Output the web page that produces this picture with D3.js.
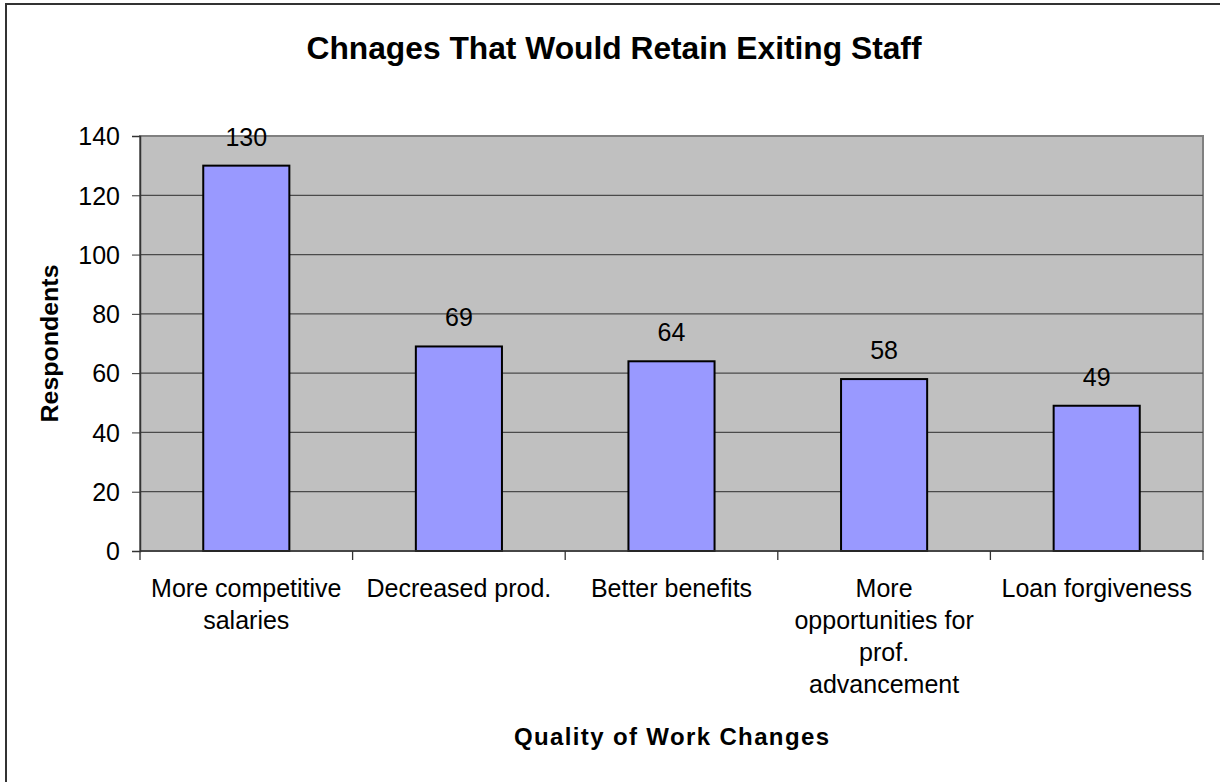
<!DOCTYPE html>
<html lang="en">
<head>
<meta charset="utf-8">
<title>Chnages That Would Retain Exiting Staff</title>
<script src="https://cdn.jsdelivr.net/npm/d3@7"></script>
<style>
body{
  margin: 0;
  background: #fff;
}
svg text{
  font-family: Arial, "Liberation Sans", sans-serif;
  fill: #000;
}
.axis path, .axis line{
  fill: none;
  stroke: #333;
}
</style>
</head>
<body>
<svg id="chart" width="1220" height="782"></svg>
<script>
  var categories = [
    ["More competitive", "salaries"],
    ["Decreased prod."],
    ["Better benefits"],
    ["More", "opportunities for", "prof.", "advancement"],
    ["Loan forgiveness"]
  ];
  var respondents = [130, 69, 64, 58, 49];
  var yTicks = [0, 20, 40, 60, 80, 100, 120, 140];

  var svg = d3.select('svg');
  var plot = {left: 140, top: 136, right: 1203, bottom: 551};

  // outer chart frame, runs off the right and bottom edge
  svg.append('rect')
    .attr('x', 6).attr('y', 4)
    .attr('width', 1230).attr('height', 800)
    .attr('fill', '#fff')
    .attr('stroke', '#333')
    .attr('stroke-width', 2);

  var xScale = d3.scaleBand()
    .domain(d3.range(categories.length))
    .range([plot.left, plot.right])
    .paddingInner(0.595)
    .paddingOuter(0.2975);

  var xBand = d3.scaleBand()
    .domain(d3.range(categories.length))
    .range([plot.left, plot.right]);

  var yScale = d3.scaleLinear()
    .domain([0, 140])
    .range([plot.bottom, plot.top]);

  svg.append('rect')
    .attr('x', plot.left).attr('y', plot.top)
    .attr('width', plot.right - plot.left)
    .attr('height', plot.bottom - plot.top)
    .attr('fill', '#c0c0c0')
    .attr('stroke', '#808080')
    .attr('stroke-width', 2);

  // gridlines
  svg.append('g')
    .selectAll('line')
    .data(yTicks.slice(1, -1))
    .enter().append('line')
      .attr('x1', plot.left).attr('x2', plot.right)
      .attr('y1', function(d) { return yScale(d); })
      .attr('y2', function(d) { return yScale(d); })
      .attr('stroke', '#4a4a4a')
      .attr('stroke-width', 1.3);

  // bars
  svg.selectAll('.bar')
    .data(respondents)
    .enter().append('rect')
      .attr('class', 'bar')
      .attr('x', function(d, i) { return xScale(i); })
      .attr('y', function(d) { return yScale(d); })
      .attr('width', xScale.bandwidth())
      .attr('height', function(d) { return plot.bottom - yScale(d); })
      .attr('fill', '#9999ff')
      .attr('stroke', '#000')
      .attr('stroke-width', 2);

  svg.selectAll('.val')
    .data(respondents)
    .enter().append('text')
      .attr('class', 'val')
      .attr('x', function(d, i) { return xScale(i) + xScale.bandwidth() / 2; })
      .attr('y', function(d) { return yScale(d) - 20; })
      .attr('text-anchor', 'middle')
      .attr('font-size', '25px')
      .text(function(d) { return d; });

  // y axis
  var yAxis = svg.append('g')
    .attr('class', 'axis')
    .attr('transform', 'translate(' + plot.left + ',0)')
    .call(d3.axisLeft(yScale).tickValues(yTicks).tickSize(8).tickPadding(12));
  yAxis.select('.domain').attr('stroke', '#333').attr('stroke-width', 1.5);
  yAxis.selectAll('text').attr('font-size', '25px').attr('dy', '0.35em');

  // x axis ticks at band boundaries
  var xAxis = svg.append('g').attr('class', 'axis');
  xAxis.append('line')
    .attr('x1', plot.left).attr('x2', plot.right)
    .attr('y1', plot.bottom).attr('y2', plot.bottom)
    .attr('stroke-width', 1.5);
  xAxis.selectAll('.tick')
    .data(d3.range(categories.length + 1))
    .enter().append('line')
      .attr('x1', function(i) { return plot.left + i * xBand.bandwidth(); })
      .attr('x2', function(i) { return plot.left + i * xBand.bandwidth(); })
      .attr('y1', plot.bottom).attr('y2', plot.bottom + 9)
      .attr('stroke-width', 1.3);

  var labels = svg.selectAll('.cat')
    .data(categories)
    .enter().append('text')
      .attr('class', 'cat')
      .attr('text-anchor', 'middle')
      .attr('font-size', '25px')
      .attr('x', function(d, i) { return xBand(i) + xBand.bandwidth() / 2; })
      .attr('y', 597);
  labels.selectAll('tspan')
    .data(function(d) { return d; })
    .enter().append('tspan')
      .attr('x', function() { return d3.select(this.parentNode).attr('x'); })
      .attr('dy', function(d, i) { return i ? 32 : 0; })
      .text(function(d) { return d; });

  // titles
  svg.append('text')
    .attr('x', 614)
    .attr('y', 59)
    .attr('text-anchor', 'middle')
    .attr('font-size', '32px')
    .attr('font-weight', 'bold')
    .attr('textLength', 615)
    .attr('lengthAdjust', 'spacingAndGlyphs')
    .text('Chnages That Would Retain Exiting Staff');

  svg.append('text')
    .attr('transform', 'translate(58,' + (plot.top + plot.bottom) / 2 + ') rotate(-90)')
    .attr('text-anchor', 'middle')
    .attr('font-size', '24px')
    .attr('font-weight', 'bold')
    .attr('textLength', 158)
    .attr('lengthAdjust', 'spacingAndGlyphs')
    .text('Respondents');

  svg.append('text')
    .attr('x', (plot.left + plot.right) / 2)
    .attr('y', 745)
    .attr('text-anchor', 'middle')
    .attr('font-size', '24px')
    .attr('font-weight', 'bold')
    .attr('textLength', 315)
    .attr('lengthAdjust', 'spacing')
    .text('Quality of Work Changes');
</script>
</body>
</html>
